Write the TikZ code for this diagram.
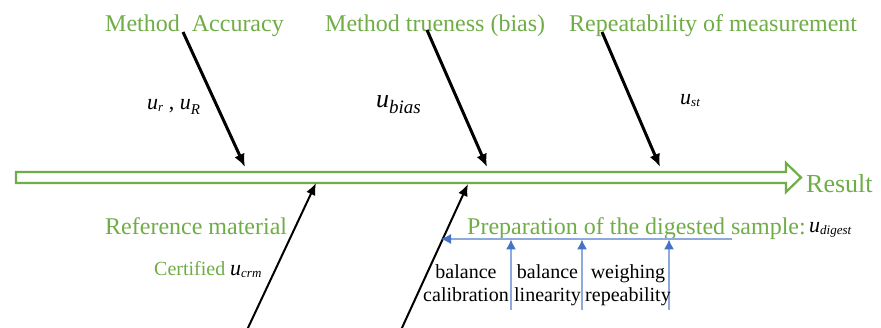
\documentclass[tikz,border=0pt]{standalone}
\usepackage{fontspec}
\setmainfont{Liberation Serif}
\usetikzlibrary{arrows.meta}
\definecolor{fgreen}{HTML}{70AD47}
\definecolor{fblue}{HTML}{4472C4}
\definecolor{fbluel}{HTML}{8EA9DB}
\newcommand{\usub}[1]{\textit{u}\raisebox{-0.15ex}{\fontsize{13}{13}\selectfont\textit{#1}}}
\newcommand{\umath}[2]{\textit{u}\raisebox{-0.45ex}{\fontsize{#2}{#2}\selectfont\textit{#1}}}
\begin{document}
\begin{tikzpicture}[x=1pt,y=-1pt,
  gtitle/.style={font=\fontsize{24}{28}\selectfont, text=fgreen, inner sep=0pt, anchor=base west},
  btext/.style={font=\fontsize{20}{23}\selectfont, align=center, inner sep=0pt, anchor=north},
  ulabel/.style={font=\fontsize{22}{26}\selectfont, inner sep=0pt, anchor=base west},
  toparrow/.style={line width=3pt, -{Latex[length=13pt,width=11pt]}},
  botarrow/.style={line width=2pt, -{Latex[length=12pt,width=10pt]}},
  bluearrow/.style={line width=1.2pt, draw=fbluel, -{Latex[length=10pt,width=10pt,color=fblue]}}
]
\useasboundingbox (0,0) rectangle (881,328);
\fill[white] (0,0) rectangle (881,328);

% main hollow arrow
\draw[fgreen, line width=2.2pt, line join=miter]
  (16,172) -- (786,172) -- (786,163) -- (801,177.5) -- (786,192) -- (786,183) -- (16,183) -- cycle;
\node[gtitle, font=\fontsize{26}{30}\selectfont] (result) at (806,193) {Result};

% top titles
\node[gtitle] (acc) at (105,32) {Method\ \ Accuracy};
\node[gtitle] (true) at (325,32) {Method trueness (bias)};
\node[gtitle] (rep) at (569,32) {Repeatability of measurement};

% top labels
\node[ulabel] (ur) at (147,110) {\usub{r} , \umath{R}{15}};
\node[ulabel, font=\fontsize{26}{30}\selectfont] (ubias) at (376,108) {\umath{bias}{19}};
\node[ulabel] (ust) at (680,105) {\usub{st}};

% top arrows
\coordinate (a1s) at (183,32);  \coordinate (a1e) at (245,167);
\coordinate (a2s) at (427,30);  \coordinate (a2e) at (487,167);
\coordinate (a3s) at (602,32);  \coordinate (a3e) at (660,167);
\draw[toparrow] (a1s) -- (a1e);
\draw[toparrow] (a2s) -- (a2e);
\draw[toparrow] (a3s) -- (a3e);

% bottom titles
\node[gtitle] (refm) at (105,235) {Reference material};
\node[gtitle, font=\fontsize{20}{24}\selectfont] (cert) at (154,276) {Certified};
\node[ulabel] (ucrm) at (230,276) {\usub{crm}};
\node[gtitle] (prep) at (467,235) {Preparation of the digested sample:};
\node[ulabel] (udig) at (809,233) {\usub{digest}};

% bottom arrows
\coordinate (b1s) at (247,330); \coordinate (b1e) at (316,183);
\coordinate (b2s) at (401,330); \coordinate (b2e) at (468,184);
\draw[botarrow] (b1s) -- (b1e);
\draw[botarrow] (b2s) -- (b2e);

% blue sub-branches
\coordinate (hs) at (732,239); \coordinate (he) at (441,239);
\draw[bluearrow] (hs) -- (he);
\coordinate (v1s) at (511,310); \coordinate (v1e) at (511,239.5);
\coordinate (v2s) at (582,310); \coordinate (v2e) at (582,239.5);
\coordinate (v3s) at (669,310); \coordinate (v3e) at (669,239.5);
\draw[bluearrow] (v1s) -- (v1e);
\draw[bluearrow] (v2s) -- (v2e);
\draw[bluearrow] (v3s) -- (v3e);

\node[btext] (bcal) at (466,264) {balance\\calibration};
\node[btext] (blin) at (547.5,264) {balance\\linearity};
\node[btext] (wrep) at (628,264) {weighing\\repeability};
\end{tikzpicture}
\end{document}
